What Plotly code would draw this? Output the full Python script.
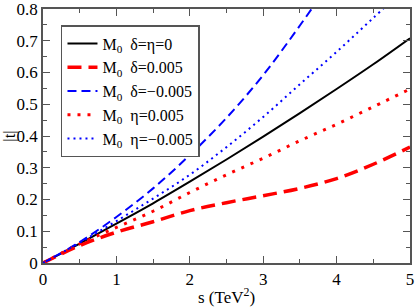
import plotly.graph_objects as go

s_vals = [0, 0.5, 1, 1.5, 2, 2.5, 3, 3.5, 4, 4.5, 5]
t_base = [0, 0.061, 0.124, 0.188, 0.256, 0.326, 0.398, 0.472, 0.548, 0.626, 0.708]
t_delta_pos = [0, 0.055, 0.097, 0.130, 0.165, 0.190, 0.212, 0.235, 0.266, 0.311, 0.365]
t_delta_neg = [0, 0.066, 0.145, 0.235, 0.340, 0.457, 0.592, 0.748, 0.915, 1.09, 1.28]
t_eta_pos = [0, 0.060, 0.112, 0.163, 0.222, 0.278, 0.330, 0.385, 0.437, 0.492, 0.548]
t_eta_neg = [0, 0.064, 0.132, 0.203, 0.278, 0.365, 0.460, 0.563, 0.665, 0.772, 0.880]

y_ticks = [0, 0.1, 0.2, 0.3, 0.4, 0.5, 0.6, 0.7, 0.8]
y_tick_text = ["0", "0.1", "0.2", "0.3", "0.4", "0.5", "0.6", "0.7", "0.8"]
x_ticks = [0, 1, 2, 3, 4, 5]

labels = ["M<sub>0</sub>  δ=η=0", "M<sub>0</sub>  δ=0.005", "M<sub>0</sub>  δ=−0.005",
          "M<sub>0</sub>  η=0.005", "M<sub>0</sub>  η=−0.005"]

styles = [
    dict(color="black", width=2, dash="solid"),
    dict(color="#ff0000", width=3.5, dash="14px,7px"),
    dict(color="#0000ff", width=2, dash="9px,5px"),
    dict(color="#ff0000", width=3, dash="3px,7px"),
    dict(color="#0000ff", width=2, dash="2px,4px"),
]
series = [t_base, t_delta_pos, t_delta_neg, t_eta_pos, t_eta_neg]

fig = go.Figure()
for i, (lab, st, ys) in enumerate(zip(labels, styles, series)):
    fig.add_trace(go.Scatter(x=s_vals, y=ys, mode="lines", name=lab, legendgroup=f"g{i}",
                             line=dict(shape="spline", **st)))

fam = "Liberation Serif, Times New Roman, serif"
font = dict(family=fam, size=17, color="black")
axis_common = dict(showline=True, linecolor="#555555", linewidth=1.5, mirror="ticks",
                   ticks="inside", ticklen=7, tickcolor="#555555", tickwidth=1,
                   showgrid=False, zeroline=False, tickfont=font, ticklabeloverflow="allow")

fig.update_layout(
    width=415, height=307,
    margin=dict(l=43, r=5, t=9, b=44, autoexpand=False),
    paper_bgcolor="white", plot_bgcolor="white",
    font=font,
    xaxis=dict(range=[0, 5], tickmode="array", tickvals=x_ticks,
               title=dict(text="s (TeV<sup>2</sup>)", font=font, standoff=4),
               minor=dict(ticks="inside", ticklen=4, dtick=0.5, tickcolor="#555555"),
               **axis_common),
    yaxis=dict(range=[0, 0.8], tickmode="array", tickvals=y_ticks, ticktext=y_tick_text,
               title=dict(text="|t|", font=font, standoff=4),
               minor=dict(ticks="inside", ticklen=4, dtick=0.05, tickcolor="#555555"),
               **axis_common),
    legend=dict(x=0.049, y=0.937, xanchor="left", yanchor="top",
                bgcolor="white", bordercolor="#555555", borderwidth=1.5,
                font=dict(family=fam, size=16, color="black"),
                tracegroupgap=0, itemwidth=30),
    showlegend=True,
)
fig.write_html("out.html", config={"displayModeBar": False},
               post_script="document.body.style.margin='0';")
